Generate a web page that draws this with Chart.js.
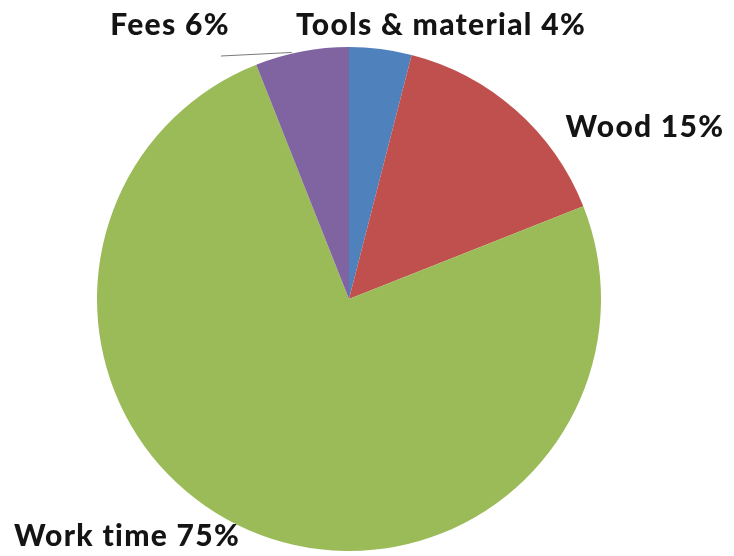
<!DOCTYPE html>
<html>
<head>
<meta charset="utf-8">
<script src="https://cdn.jsdelivr.net/npm/chart.js@4.4.1/dist/chart.umd.min.js"></script>
<style>
  html, body { margin: 0; padding: 0; background: #fff; }
  #wrap { width: 734px; height: 556px; }
</style>
</head>
<body>
<div id="wrap"><canvas id="pie"></canvas></div>
<script>
const categories = ['Tools & material', 'Wood', 'Work time', 'Fees'];
const shares = [4, 15, 75, 6];
const sliceColors = ['#4f81bd', '#c0504d', '#9bbb59', '#8064a2'];

// where each outside label sits (text centre)
const labelSpots = [
  { x: 441, y: 25 },
  { x: 645, y: 127 },
  { x: 127, y: 536 },
  { x: 170, y: 25 },
];

const outsideLabels = {
  id: 'outsideLabels',
  afterDraw(chart) {
    const ctx = chart.ctx;
    const arcs = chart.getDatasetMeta(0).data;
    ctx.save();
    ctx.font = '900 30px Lato, "Open Sans", sans-serif';
    ctx.letterSpacing = '1.3px';
    ctx.fillStyle = '#141414';
    ctx.textAlign = 'center';
    ctx.textBaseline = 'middle';
    categories.forEach((c, i) => {
      const p = labelSpots[i];
      ctx.fillText(`${c} ${shares[i]}%`, p.x, p.y);
    });
    // leader line for the small Fees slice
    const a = arcs[3];
    const mid = (a.startAngle + a.endAngle) / 2;
    const ex = a.x + Math.cos(mid) * a.outerRadius;
    const ey = a.y + Math.sin(mid) * a.outerRadius;
    ctx.strokeStyle = '#7a7a7a';
    ctx.lineWidth = 1;
    ctx.beginPath();
    ctx.moveTo(221, 56);
    ctx.lineTo(ex - 10, ey + 1);
    ctx.stroke();
    ctx.restore();
  },
};

new Chart(document.getElementById('pie'), {
  type: 'pie',
  data: {
    labels: categories,
    datasets: [{ data: shares, backgroundColor: sliceColors, borderWidth: 0 }],
  },
  options: {
    responsive: true,
    maintainAspectRatio: false,
    animation: false,
    layout: { padding: { left: 97, right: 133, top: 47, bottom: 5 } },
    plugins: { legend: { display: false }, tooltip: { enabled: false } },
  },
  plugins: [outsideLabels],
});
</script>
</body>
</html>
